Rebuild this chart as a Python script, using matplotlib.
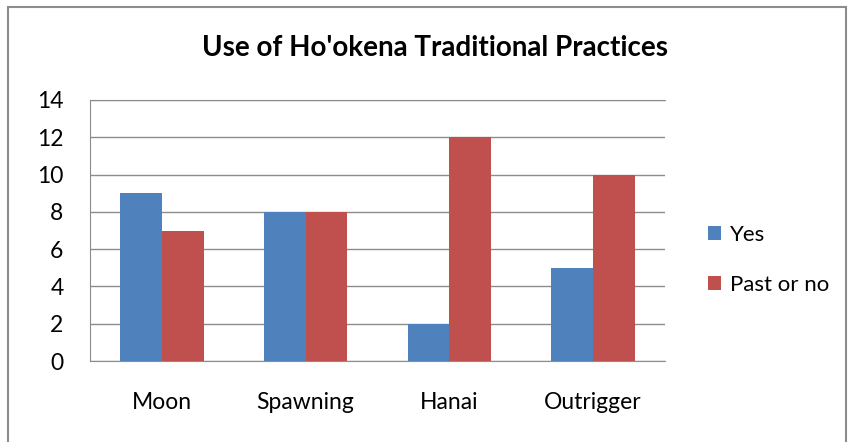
import matplotlib
matplotlib.use("Agg")
import matplotlib.pyplot as plt
from matplotlib.patches import Rectangle
import numpy as np

categories = ["Moon", "Spawning", "Hanai", "Outrigger"]
yes_vals = [9, 8, 2, 5]
past_vals = [7, 8, 12, 10]
yticks = [0, 2, 4, 6, 8, 10, 12, 14]

plt.rcParams['font.family'] = ['Lato', 'DejaVu Sans']

fig = plt.figure(figsize=(8.52, 4.42), dpi=100)
fig.patches.append(Rectangle((8/852, -0.01), (846-8)/852, 1 - 7/442 + 0.01,
                             transform=fig.transFigure, fill=False,
                             edgecolor='#8c8c8c', linewidth=1.5))
ax = fig.add_axes([90/852, 1-361/442, (665-90)/852, (361-100)/442])

x = np.arange(len(categories))
w = 0.29
ax.bar(x - w/2, yes_vals, w, color='#4f81bd', label='Yes', zorder=3)
ax.bar(x + w/2, past_vals, w, color='#c0504d', label='Past or no', zorder=3)

ax.set_xlim(-0.5, len(categories) - 0.5)
ax.set_ylim(0, 14)
ax.set_yticks(yticks)
ax.set_yticklabels([str(t) for t in yticks], fontsize=16.5)
ax.set_xticks(x)
ax.set_xticklabels(categories, fontsize=16.5)
ax.tick_params(axis='x', length=0, pad=22)
ax.tick_params(axis='y', length=0, pad=19)
ax.grid(axis='y', color='#8c8c8c', linewidth=1, zorder=0)
ax.spines['right'].set_visible(False)
for s in ['left', 'bottom', 'top']:
    ax.spines[s].set_color('#8c8c8c')

fig.text(435/852, 1-48/442, "Use of Ho'okena Traditional Practices",
         ha='center', va='center', fontsize=20, fontweight='bold')

ax.legend(loc='center left', bbox_to_anchor=(708/852, 1-260/442),
          bbox_transform=fig.transFigure, frameon=False, fontsize=16,
          borderpad=0, borderaxespad=0,
          handlelength=0.6, handleheight=0.6, labelspacing=1.35, handletextpad=0.4)

fig.savefig("out.png", dpi=100)
